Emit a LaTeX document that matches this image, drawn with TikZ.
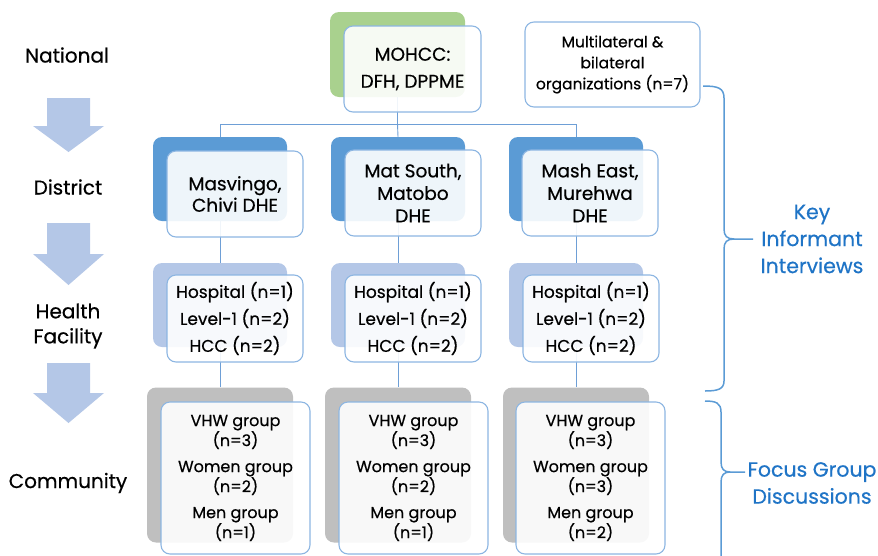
\documentclass[tikz,border=0pt]{standalone}
\usepackage{fontspec}
\setmainfont{Poppins}[FakeBold=0.5]
\usetikzlibrary{calc}

\definecolor{natgreen}{HTML}{A9D18E}
\definecolor{distblue}{HTML}{5B9BD5}
\definecolor{facblue}{HTML}{B4C7E7}
\definecolor{commgrey}{HTML}{BFBFBF}
\definecolor{stepblue}{HTML}{B4C7E7}
\definecolor{boxline}{HTML}{8DB6E2}
\definecolor{linkblue}{HTML}{6E9FD6}
\definecolor{braceblue}{HTML}{5B9BD5}
\definecolor{notetext}{HTML}{1F74C6}

\begin{document}
\begin{tikzpicture}[x=1pt,y=-1pt,
  backbox/.style={draw=none,rounded corners=9pt,inner sep=0pt},
  frontbox/.style={draw=boxline,line width=1.1pt,fill=white,fill opacity=0.9,
    text opacity=1,rounded corners=9pt,inner sep=0pt,align=center,
    font=\fontsize{16}{20}\selectfont},
  link/.style={draw=linkblue,line width=0.9pt},
  brace/.style={draw=braceblue,line width=1.5pt},
  level/.style={font=\fontsize{20}{25}\selectfont,align=center,inner sep=0pt},
  note/.style={font=\fontsize{20.5}{27}\selectfont,align=center,text=notetext,inner sep=0pt},
  stepdown/.style={fill=stepblue,draw=none}]

\useasboundingbox (0,0) rectangle (878,555);
\clip (0,0) rectangle (878,555);

% ---- level labels and down arrows on the left
\node[level] (lNat)  at (67,55)  {National};
\node[level] (lDist) at (68,187) {District};
\node[level] (lFac)  at (68,326) {Health\\Facility};
\node[level] (lComm) at (68,483) {Community};

\foreach \t/\b/\e in {98/126/152, 223/254/285, 363/393/423}{
  \fill[stepdown] (47,\t) -- (90,\t) -- (90,\b) -- (104,\b) -- (68.5,\e)
     -- (33,\b) -- (47,\b) -- cycle;
}

% ---- coloured back plates
\node[backbox,fill=natgreen,minimum width=135pt,minimum height=85pt] (natB) at (397.5,54.5) {};
\foreach \i/\dx in {1/0,2/178,3/356}{
  \node[backbox,fill=distblue,minimum width=134pt,minimum height=84pt] (d\i B) at (220+\dx,179) {};
  \node[backbox,fill=facblue,minimum width=134pt,minimum height=84pt]  (h\i B) at (220+\dx,305) {};
  \node[backbox,fill=commgrey,minimum width=146pt,minimum height=155pt] (c\i B) at (220+\dx,465) {};
}

% ---- tree connectors
\coordinate (bus) at (397.5,124);
\draw[link] (natB.south) -- (bus);
\draw[link] (d1B.north) |- (bus);
\draw[link] (bus) -| (d3B.north);
\draw[link] (bus) -- (d2B.north);
\foreach \i in {1,2,3}{
  \draw[link] (d\i B.south) -- (h\i B.north);
  \draw[link] (h\i B.south) -- (c\i B.north);
}

% ---- front boxes with text
\node[frontbox,minimum width=137pt,minimum height=86pt,
      font=\fontsize{18.5}{27}\selectfont] (natF) at (412.5,69) {MOHCC:\\DFH, DPPME};
\node[frontbox,fill opacity=1,minimum width=175pt,minimum height=85pt,
      font=\fontsize{15.5}{21}\selectfont] (multi) at (612.5,64.5)
      {Multilateral \&\\bilateral\\organizations (n=7)};

\node[frontbox,minimum width=136pt,minimum height=86pt,
      font=\fontsize{18.5}{21.5}\selectfont] (d1F) at (235,194) {Masvingo,\\Chivi DHE};
\node[frontbox,minimum width=136pt,minimum height=86pt,
      font=\fontsize{18.5}{22.5}\selectfont] (d2F) at (413,193) {Mat South,\\Matobo\\DHE};
\node[frontbox,minimum width=136pt,minimum height=86pt,
      font=\fontsize{18.5}{22.5}\selectfont] (d3F) at (590,193) {Mash East,\\Murehwa\\DHE};

\foreach \i/\dx in {1/0,2/178,3/356}{
  \node[frontbox,minimum width=136pt,minimum height=87pt,
        font=\fontsize{17}{27}\selectfont] (h\i F) at (235+\dx,318.5)
        {Hospital (n=1)\\Level-1 (n=2)\\HCC (n=2)};
}

\node[frontbox,minimum width=149pt,minimum height=152pt] (c1F) at (235.5,478)
  {VHW group\\(n=3)\\[6pt]Women group\\(n=2)\\[6pt]Men group\\(n=1)};
\node[frontbox,minimum width=149pt,minimum height=152pt] (c2F) at (413.5,478)
  {VHW group\\(n=3)\\[6pt]Women group\\(n=2)\\[6pt]Men group\\(n=1)};
\node[frontbox,minimum width=149pt,minimum height=152pt] (c3F) at (590.5,478)
  {VHW group\\(n=3)\\[6pt]Women group\\(n=3)\\[6pt]Men group\\(n=2)};

% ---- braces grouping the levels by method
\coordinate (kiiTop) at (703,86);
\coordinate (kiiTip) at (753,239);
\coordinate (kiiBot) at (705,391);
\draw[brace] (kiiTop) .. controls (718,86) and (724,88) .. (724,98)
  -- (724,229) .. controls (724,236) and (727,239) .. (734,239) -- (kiiTip)
  (734,239) .. controls (727,239) and (724,242) .. (724,249)
  -- (724,381) .. controls (724,389) and (718,391) .. (kiiBot);
\node[note] (kii) at (812,239) {Key\\Informant\\Interviews};

\coordinate (fgdTop) at (705,401);
\coordinate (fgdTip) at (745,472);
\draw[brace] (fgdTop) .. controls (716,401) and (721,403) .. (721,412)
  -- (721,462) .. controls (721,469) and (724,472) .. (730,472) -- (fgdTip)
  (730,472) .. controls (724,472) and (721,475) .. (721,482) -- (721,560);
\node[note] (fgd) at (812,483) {Focus Group\\Discussions};

\end{tikzpicture}
\end{document}
